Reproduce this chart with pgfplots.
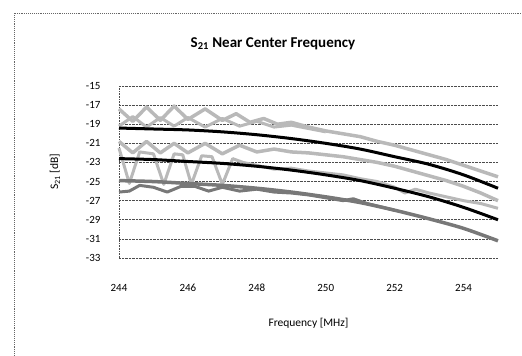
\documentclass[border=0pt]{standalone}
\usepackage{pgfplots}
\pgfplotsset{compat=1.18}
\usepackage{fontspec}
\setmainfont{Carlito}
\definecolor{lgray}{RGB}{185,185,185}
\definecolor{dgray}{RGB}{120,120,120}
\begin{document}
\begin{tikzpicture}[x=1pt,y=1pt]
\useasboundingbox (0,0) rectangle (522,356);
\draw[black!60, line width=0.9pt, densely dotted] (14,0) -- (14,343) -- (522,343);
\node[font=\bfseries\fontsize{15}{18}\selectfont] at (273,312) {S\textsubscript{21} Near Center Frequency};
\begin{axis}[
  at={(119pt,98pt)}, anchor=south west,
  width=379pt, height=172pt, scale only axis,
  xmin=244, xmax=255, ymin=-33, ymax=-15,
  xtick={244,246,248,250,252,254},
  ytick={-33,-31,-29,-27,-25,-23,-21,-19,-17,-15},
  yticklabels={-33,-31,-29,-27,-25,-23,-21,-19,-17,-15},
  xticklabels={244,246,248,250,252,254},
  major tick length=0pt,
  axis lines*=left,
  x axis line style={draw=none},
  y axis line style={densely dotted, black!70, line width=0.6pt},
  ymajorgrids,
  grid style={densely dotted, black!70, line width=0.6pt},
  tick label style={font=\fontsize{11}{13}\selectfont},
  yticklabel style={xshift=-15pt},
  xticklabel style={anchor=center, yshift=-30pt, text height=1.6ex, text depth=0.2ex},
  xlabel={Frequency [MHz]},
  ylabel={S\textsubscript{21} [dB]},
  label style={font=\fontsize{11.5}{13}\selectfont},
  xlabel style={at={(axis description cs:0.5,-0.38)}, anchor=center},
  ylabel style={at={(axis description cs:-0.169,0.5)}, anchor=center},
  clip=false,
]
% light grey series
\addplot[lgray, line width=3.5pt, line join=round] coordinates {
(244,-17.4)(244.4,-18.7)(244.8,-17.2)(245.2,-18.6)(245.6,-17.1)(246.0,-18.5)(246.5,-17.4)(247.0,-18.6)(247.4,-17.9)(247.8,-18.8)(248.2,-18.4)(248.6,-19.0)(249.0,-18.8)(249.5,-19.3)(250,-19.7)(250.5,-20.0)(251,-20.3)(251.5,-20.8)(252,-21.2)(252.5,-21.7)(253,-22.2)(253.5,-22.7)(254,-23.3)(254.5,-23.9)(255,-24.5)};
\addplot[lgray, line width=3pt, line join=round] coordinates {
(244,-19.2)(244.4,-18.2)(244.8,-19.3)(245.2,-18.3)(245.6,-19.2)(246,-18.3)(246.5,-19.3)(247,-18.4)(247.5,-19.2)(248,-18.7)(248.5,-19.3)(249,-19.1)(250,-19.8)};
\addplot[lgray, line width=3.5pt, line join=round] coordinates {
(244,-20.8)(244.4,-22.0)(244.8,-20.8)(245.2,-22.0)(245.6,-21.0)(246.0,-22.0)(246.5,-21.0)(247.0,-22.1)(247.5,-21.2)(248,-21.9)(248.5,-21.6)(249,-21.9)(249.5,-22.0)(250,-22.2)(250.5,-22.4)(251,-22.7)(251.5,-23.0)(252,-23.4)(252.5,-23.9)(253,-24.4)(253.5,-24.9)(254,-25.5)(254.5,-26.2)(255,-27.0)};
\addplot[lgray, line width=3pt, line join=round] coordinates {
(244,-21.5)(244.3,-25.2)(244.6,-21.9)(245.0,-22.1)(245.3,-25.3)(245.6,-22.1)(245.85,-22.2)(246.1,-25.3)(246.4,-22.3)(246.7,-22.4)(247.0,-25.3)(247.3,-22.6)(247.6,-23.0)(248,-23.3)(248.5,-23.7)(249,-23.6)(249.5,-23.9)(250,-24.1)(250.5,-24.3)(251,-24.7)(251.5,-25.0)(252,-25.6)(252.3,-26.2)(252.6,-25.8)(253,-26.2)(253.5,-26.6)(254,-27.0)(254.5,-27.3)(255,-27.8)};
% dark grey series
\addplot[dgray, line width=3pt, line join=round] coordinates {
(244,-26.1)(244.3,-26.0)(244.6,-25.4)(245,-25.6)(245.4,-26.1)(245.8,-25.5)(246.2,-25.5)(246.6,-26.0)(247,-25.6)(247.5,-26.0)(248,-25.8)(248.5,-26.1)(249,-26.2)(249.5,-26.4)(250,-26.7)(250.5,-27.0)(250.8,-26.8)(251.2,-27.3)(252,-28.0)};
\addplot[dgray, line width=3.5pt, smooth] coordinates {
(244,-24.9)(245,-25.0)(246,-25.2)(247,-25.4)(248,-25.7)(249,-26.1)(250,-26.6)(251,-27.2)(252,-28.0)(253,-28.9)(254,-29.9)(255,-31.2)};
% black series
\addplot[black, line width=3pt, smooth] coordinates {
(244,-19.4)(245,-19.5)(246,-19.6)(247,-19.8)(248,-20.1)(249,-20.5)(250,-21.0)(251,-21.6)(252,-22.4)(253,-23.2)(254,-24.3)(255,-25.7)};
\addplot[black, line width=3pt, smooth] coordinates {
(244,-22.6)(245,-22.7)(246,-22.9)(247,-23.1)(248,-23.4)(249,-23.8)(250,-24.3)(251,-24.9)(252,-25.7)(253,-26.6)(254,-27.7)(255,-29.0)};
\end{axis}
\end{tikzpicture}
\end{document}
